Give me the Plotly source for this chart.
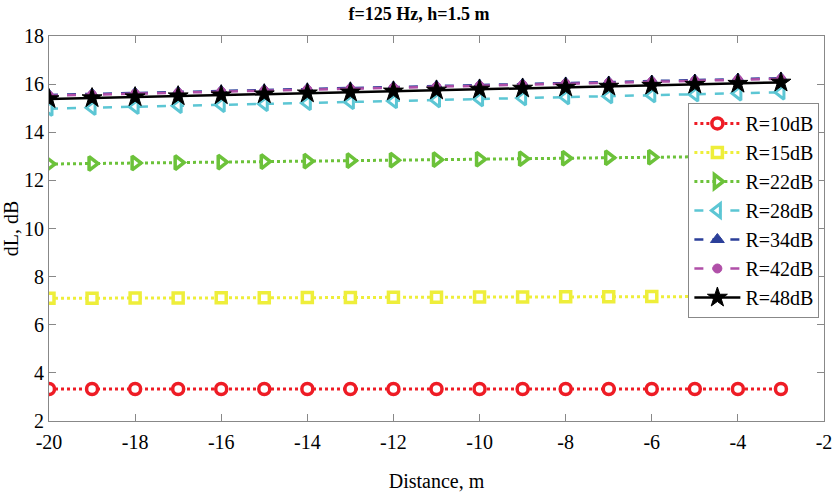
import plotly.graph_objects as go

distance = [-20, -19, -18, -17, -16, -15, -14, -13, -12, -11, -10, -9, -8, -7, -6, -5, -4, -3]

r10 = [3.33] * 18
r15 = [7.10, 7.10, 7.11, 7.11, 7.12, 7.12, 7.13, 7.13, 7.14, 7.14, 7.15, 7.15, 7.16, 7.16, 7.17, 7.17, 7.18, 7.18]
r22 = [12.68, 12.70, 12.72, 12.74, 12.76, 12.78, 12.80, 12.82, 12.84, 12.86, 12.88, 12.90, 12.92, 12.94, 12.96, 12.98, 13.00, 13.02]
r28 = [14.98, 15.02, 15.06, 15.10, 15.14, 15.18, 15.22, 15.26, 15.30, 15.34, 15.38, 15.42, 15.46, 15.50, 15.54, 15.58, 15.62, 15.66]
r34 = [15.55, 15.59, 15.63, 15.67, 15.72, 15.76, 15.80, 15.84, 15.88, 15.92, 15.96, 16.00, 16.05, 16.09, 16.13, 16.17, 16.21, 16.25]
r42 = [15.52, 15.56, 15.60, 15.64, 15.69, 15.73, 15.77, 15.81, 15.85, 15.89, 15.93, 15.97, 16.02, 16.06, 16.10, 16.14, 16.18, 16.22]
r48 = [15.38, 15.42, 15.46, 15.50, 15.54, 15.58, 15.62, 15.66, 15.70, 15.74, 15.78, 15.82, 15.86, 15.90, 15.94, 15.98, 16.02, 16.07]

x_ticks = [-20, -18, -16, -14, -12, -10, -8, -6, -4, -2]
x_tick_labels = ["-20", "-18", "-16", "-14", "-12", "-10", "-8", "-6", "-4", "-2"]
y_ticks = [2, 4, 6, 8, 10, 12, 14, 16, 18]
y_tick_labels = ["2", "4", "6", "8", "10", "12", "14", "16", "18"]

series = [
    ("R=10dB", r10, "#ee1c25", "dot", 3, "circle", "white", 11, 3.5),
    ("R=15dB", r15, "#eeee3a", "dot", 3, "square", "white", 10, 3.5),
    ("R=22dB", r22, "#6cc23a", "dot", 3, "triangle-right", "white", 12, 3.5),
    ("R=28dB", r28, "#5cc6d4", "dash", 2.5, "triangle-left", "white", 12, 3),
    ("R=34dB", r34, "#2b3f99", "dash", 2.5, "triangle-up", "#2b3f99", 12, 1),
    ("R=42dB", r42, "#b04fa8", "dash", 2.5, "circle", "#b04fa8", 9, 1),
    ("R=48dB", r48, "#000000", "solid", 2.5, "star", "#000000", 15, 1),
]

fig = go.Figure()
for name, ys, col, dash, lw, sym, fill, size, mlw in series:
    fig.add_trace(go.Scatter(
        x=distance, y=ys, name=name, mode="lines+markers",
        line=dict(color=col, dash=dash, width=lw),
        marker=dict(symbol=sym, color=fill, size=size, line=dict(color=col, width=mlw)),
    ))

font = "Liberation Serif"
fig.update_layout(
    width=838, height=499,
    margin=dict(l=49, r=14, t=36, b=78),
    paper_bgcolor="white", plot_bgcolor="white",
    font=dict(family=font, size=20, color="black"),
    title=dict(text="<b>f=125 Hz, h=1.5 m</b>", x=0.5, xanchor="center", y=0.972, yanchor="middle",
               font=dict(family=font, size=18)),
    legend=dict(x=0.825, y=0.826, xanchor="left", yanchor="top",
                bgcolor="white", bordercolor="#888888", borderwidth=1,
                font=dict(family=font, size=20), tracegroupgap=0, itemwidth=46),
    showlegend=True,
)
fig.update_xaxes(range=[-20, -2], tickvals=x_ticks, ticktext=x_tick_labels, ticks="inside", ticklen=7,
                 showline=True, linecolor="#888888", linewidth=1, mirror="ticks",
                 showgrid=False, zeroline=False, tickcolor="#888888", automargin=False,
                 tickfont=dict(family=font, size=20), ticklabelstandoff=3,
                 title=dict(text="Distance, m", font=dict(family=font, size=20), standoff=21))
fig.update_yaxes(range=[2, 18], tickvals=y_ticks, ticktext=y_tick_labels, ticks="inside", ticklen=7,
                 showline=True, linecolor="#888888", linewidth=1, mirror="ticks",
                 showgrid=False, zeroline=False, tickcolor="#888888", automargin=False,
                 tickfont=dict(family=font, size=20),
                 title=dict(text="dL, dB", font=dict(family=font, size=20)))

fig.write_html("out.html")
